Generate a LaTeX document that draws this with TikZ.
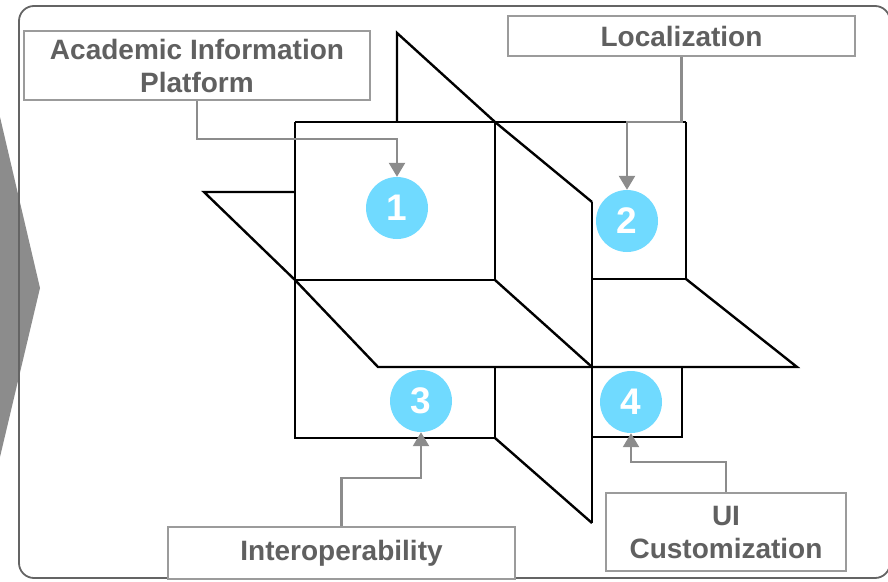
\documentclass[tikz,border=0pt]{standalone}
\usepackage{fontspec}
\setmainfont{Liberation Sans}
\usetikzlibrary{arrows.meta}
\definecolor{bubble}{RGB}{112,218,255}
\definecolor{txtgray}{RGB}{96,96,96}
\definecolor{boxgray}{RGB}{155,155,155}
\definecolor{arrowgray}{RGB}{140,140,140}
\definecolor{framegray}{RGB}{100,100,100}
\definecolor{chevgray}{RGB}{140,140,140}
\begin{document}
\begin{tikzpicture}[x=1pt,y=-1pt,
  planeline/.style={line width=2.4pt,black,line join=miter},
  labelbox/.style={draw=boxgray,line width=2.5pt,fill=white,text=txtgray,align=center,
    font=\fontsize{28pt}{33pt}\selectfont\bfseries,inner sep=0pt},
  bubblenode/.style={circle,fill=bubble,minimum size=62pt,inner sep=0pt,text=white,
    font=\fontsize{37pt}{37pt}\selectfont\bfseries},
  callout/.style={draw=arrowgray,line width=2.4pt,-{Triangle[length=14pt,width=16pt]}}]
\useasboundingbox (0,0) rectangle (888,581);
\clip (0,0) rectangle (888,581);
% left chevron
\fill[chevgray] (-2,117) -- (0,117) -- (40,288) -- (0,457) -- (-2,457) -- cycle;
% frame
\draw[framegray,line width=1.8pt,rounded corners=15pt] (19,6) rectangle (890,578);
% planes
\draw[planeline] (295,122) -- (686,122);
\draw[planeline] (295,122) -- (295,438) -- (495,438);
\draw[planeline] (495,122) -- (495,280);
\draw[planeline] (495,367) -- (495,438);
\draw[planeline] (295,280) -- (495,280);
\draw[planeline] (686,122) -- (686,279) -- (592,279);
\draw[planeline] (592,202) -- (592,523);
\draw[planeline] (592,437) -- (682,437) -- (682,367);
\draw[planeline] (295,192) -- (204,192) -- (295,280) -- (378,367) -- (797,367) -- (686,279);
\draw[planeline] (495,280) -- (592,367);
\draw[planeline] (495,438) -- (592,523);
\draw[planeline] (397,122) -- (397,33) -- (495,122) -- (592,202);
% bubbles
\node[bubblenode] (c1) at (397,208) {1};
\node[bubblenode] (c2) at (627,221) {2};
\node[bubblenode] (c3) at (421,401) {3};
\node[bubblenode] (c4) at (631,402) {4};
% label boxes
\node[labelbox,minimum width=346pt,minimum height=69pt] (acad) at (197,65.5) {Academic Information\\Platform};
\node[labelbox,minimum width=347pt,minimum height=40pt] (loc) at (681.5,36) {Localization};
\node[labelbox,minimum width=347pt,minimum height=52pt] (inter) at (341.5,553) {Interoperability};
\node[labelbox,minimum width=240pt,minimum height=78pt] (ui) at (726,532) {UI\\Customization};
% callouts
\draw[callout] (acad.south) -- ++(0,38) -| (c1.north);
\draw[callout] (loc.south) |- (627,122) -- (c2.north);
\draw[callout] (inter.north) -- ++(0,-48) -| (c3.south);
\draw[callout] (ui.north) -- ++(0,-30) -| (c4.south);
\end{tikzpicture}
\end{document}
